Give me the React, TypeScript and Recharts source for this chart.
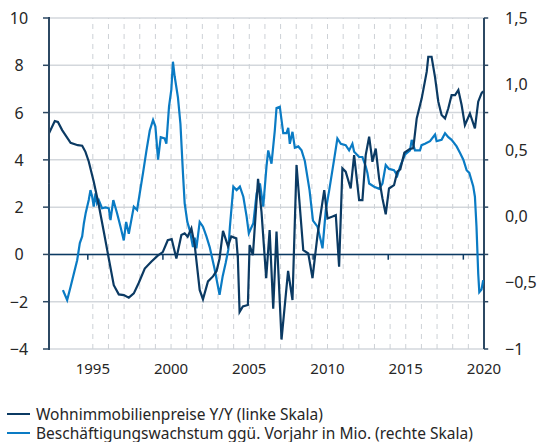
import React from "react";
import {
  LineChart,
  Line,
  XAxis,
  YAxis,
  ReferenceLine,
} from "recharts";

// Wohnimmobilienpreise Y/Y (linke Skala)
const priceDates = [
  1992.2, 1992.57, 1992.77, 1993.04, 1993.58, 1994.04, 1994.32, 1994.53, 1994.74, 1995.06,
  1995.38, 1995.7, 1996.02, 1996.34, 1996.66, 1996.98, 1997.3, 1997.62, 1997.94, 1998.32,
  1998.75, 1999.15, 1999.47, 1999.79, 2000.04, 2000.34, 2000.66, 2000.87, 2001.06, 2001.3,
  2001.51, 2001.83, 2002.04, 2002.36, 2002.68, 2002.91, 2003.1, 2003.32, 2003.64, 2003.85,
  2004.17, 2004.27, 2004.38, 2004.59, 2004.91, 2005.02, 2005.23, 2005.56, 2005.78, 2006.08,
  2006.3, 2006.53, 2006.74, 2007.06, 2007.48, 2007.76, 2008.02, 2008.45, 2008.77, 2009.04,
  2009.36, 2009.79, 2010.0, 2010.32, 2010.53, 2010.74, 2010.95, 2011.16, 2011.48, 2011.7,
  2012.02, 2012.23, 2012.44, 2012.66, 2012.87, 2013.08, 2013.3, 2013.51, 2013.72, 2013.93,
  2014.25, 2014.46, 2014.65, 2014.91, 2015.23, 2015.48, 2015.7, 2016.02, 2016.34, 2016.44,
  2016.65, 2016.87, 2017.08, 2017.29, 2017.51, 2017.72, 2017.93, 2018.15, 2018.36, 2018.57,
  2018.78, 2019.1, 2019.42, 2019.63, 2019.84, 2019.95,
];
const priceValues = [
  5.12, 5.64, 5.6, 5.26, 4.72, 4.62, 4.6, 4.34, 3.93, 3.07,
  2.09, 0.97, -0.17, -1.3, -1.69, -1.72, -1.83, -1.65, -1.2, -0.6,
  -0.3, -0.05, 0.1, 0.6, 0.65, -0.17, 0.82, 0.89, 0.75, 1.1,
  0.4, -1.5, -1.9, -1.14, -0.93, -0.7, -0.17, 1.0, 0.35, 0.76,
  0.68, -0.17, -2.43, -2.2, -2.14, 0.39, -0.03, 3.2, 1.8, -1.0,
  1.03, -2.3, 0.97, -3.6, -0.7, -1.93, 3.78, 0.18, 0.04, -1.0,
  0.82, 2.72, 1.52, 1.6, 1.66, -0.52, 3.64, 3.5, 2.79, 4.2,
  2.3, 2.3, 4.2, 4.98, 3.92, 4.48, 3.2, 2.37, 1.7, 2.79,
  2.93, 3.5, 3.6, 4.3, 4.45, 4.5, 5.75, 6.6, 7.73, 8.36,
  8.36, 7.5, 6.46, 5.9, 5.75, 6.18, 6.74, 6.74, 6.95, 6.32,
  5.47, 5.96, 5.33, 6.46, 6.81, 6.9,
];

// Beschäftigungswachstum ggü. Vorjahr in Mio. (rechte Skala)
const jobDates = [
  1993.09, 1993.36, 1993.58, 1993.79, 1994.0, 1994.17, 1994.32, 1994.43, 1994.55, 1994.74,
  1994.85, 1994.96, 1995.06, 1995.17, 1995.27, 1995.38, 1995.59, 1995.81, 1996.02, 1996.13,
  1996.31, 1996.55, 1996.77, 1996.98, 1997.13, 1997.3, 1997.62, 1997.83, 1998.0, 1998.21,
  1998.43, 1998.64, 1998.85, 1999.0, 1999.17, 1999.34, 1999.59, 1999.7, 1999.87, 2000.02,
  2000.12, 2000.23, 2000.44, 2000.6, 2000.76, 2000.87, 2001.04, 2001.19, 2001.4, 2001.51,
  2001.62, 2001.83, 2002.04, 2002.26, 2002.47, 2002.79, 2003.1, 2003.3, 2003.49, 2003.66,
  2003.76, 2003.98, 2004.19, 2004.4, 2004.62, 2004.83, 2004.97, 2005.26, 2005.47, 2005.68,
  2005.89, 2006.1, 2006.21, 2006.42, 2006.63, 2006.74, 2006.95, 2007.17, 2007.38, 2007.49,
  2007.59, 2007.76, 2007.91, 2008.13, 2008.34, 2008.55, 2008.85, 2009.07, 2009.36, 2009.57,
  2009.68, 2009.89, 2010.11, 2010.42, 2010.63, 2010.85, 2011.16, 2011.38, 2011.59, 2011.7,
  2012.02, 2012.23, 2012.44, 2012.55, 2012.66, 2012.98, 2013.3, 2013.51, 2013.72, 2013.93,
  2014.25, 2014.46, 2014.64, 2014.96, 2015.27, 2015.38, 2015.59, 2015.91, 2016.01, 2016.23,
  2016.55, 2016.87, 2016.97, 2017.29, 2017.51, 2017.72, 2017.93, 2018.25, 2018.47, 2018.68,
  2018.89, 2019.06, 2019.31, 2019.42, 2019.52, 2019.63, 2019.7, 2019.84, 2019.95,
];
const jobValues = [
  -0.555, -0.63, -0.53, -0.43, -0.33, -0.2, -0.15, -0.05, 0.03, 0.125,
  0.2, 0.15, 0.075, 0.176, 0.1, 0.125, 0.063, 0.07, 0.063, -0.026,
  0.125, 0.025, -0.076, -0.18, -0.04, -0.13, 0.075, 0.05, 0.176, 0.33,
  0.5, 0.65, 0.73, 0.68, 0.43, 0.6, 0.59, 0.55, 0.83, 0.96,
  1.17, 1.06, 0.9, 0.7, 0.33, 0.1, -0.04, -0.1, -0.23, -0.16,
  -0.24, -0.04, -0.076, -0.15, -0.23, -0.4, -0.59, -0.45, -0.35, -0.25,
  -0.08, 0.226, 0.2, 0.226, 0.15, 0.0, -0.126, -0.05, 0.176, 0.25,
  0.075, 0.38, 0.5, 0.4, 0.65, 0.82, 0.83, 0.63, 0.63, 0.67,
  0.55, 0.64, 0.52, 0.53, 0.5, 0.42, 0.2, -0.03, -0.076, -0.18,
  -0.24, 0.05, 0.2, 0.43, 0.59, 0.55, 0.54, 0.5, 0.55, 0.49,
  0.45, 0.45, 0.38, 0.33, 0.25, 0.226, 0.21, 0.25, 0.39, 0.36,
  0.35, 0.31, 0.38, 0.47, 0.5, 0.58, 0.5, 0.5, 0.54, 0.55,
  0.57, 0.62, 0.57, 0.58, 0.63, 0.6, 0.58, 0.53, 0.48, 0.43,
  0.35, 0.33, 0.23, 0.15, -0.076, -0.43, -0.57, -0.55, -0.48,
];

const leftTicks = [-4, -2, 0, 2, 4, 6, 8, 10];
const rightTicks = [-1, -0.5, 0, 0.5, 1, 1.5];
const rightTickLabels = ["\u22121", "\u22120,5", "0,0", "0,5", "1,0", "1,5"];
const yearTicks = [1995, 2000, 2005, 2010, 2015, 2020];
const gridYears = [
  1995, 1996, 1997, 1998, 1999, 2000, 2001, 2002, 2003, 2004, 2005, 2006, 2007,
  2008, 2009, 2010, 2011, 2012, 2013, 2014, 2015, 2016, 2017, 2018, 2019,
];
const zeroLineTicks = [1994.68, 1999.48, 2004.28, 2009.08, 2013.88, 2018.68];
const xDomain = [1992.2, 2020];

const priceData = priceDates.map((d, i) => ({ year: d, value: priceValues[i] }));
const jobData = jobDates.map((d, i) => ({ year: d, value: jobValues[i] }));

const DARK = "#0b3a63";
const BLUE = "#0a7bc4";
const AXIS = "#2c4863";
const GRID = "#d3d7dc";
const TEXT = "#262626";
const FONT = "'Noto Sans', sans-serif";

const fmtLeft = (v: number) => (v < 0 ? "\u2212" + Math.abs(v) : String(v));
const fmtRight = (v: number) => rightTickLabels[rightTicks.indexOf(v)] ?? String(v);

// left labels centred in the gutter, short tick mark at the axis, and the
// axis line itself drawn as short pieces around each tick (half a step each way)
const LeftTick = (props: any) => {
  const { x, y, payload } = props;
  const isTop = payload.value === leftTicks[leftTicks.length - 1];
  const isBottom = payload.value === leftTicks[0];
  const half = 24;
  return (
    <g>
      <line
        x1={x + 30}
        x2={x + 30}
        y1={isTop ? y - 1 : y - half}
        y2={isBottom ? y + 1 : y + half}
        stroke={AXIS}
        strokeWidth={2}
      />
      <line x1={x + 24} x2={x + 31} y1={y} y2={y} stroke={AXIS} strokeWidth={1.5} />
      <text
        x={x}
        y={y}
        dy={6}
        textAnchor="middle"
        fill={TEXT}
        fontSize={16}
        fontFamily={FONT}
      >
        {fmtLeft(payload.value)}
      </text>
    </g>
  );
};

export default function App() {
  return (
    <div
      style={{
        position: "absolute",
        left: 0,
        top: 0,
        width: 540,
        height: 442,
        background: "#fff",
        fontFamily: FONT,
      }}
    >
      <LineChart
        width={540}
        height={390}
        margin={{ top: 18, right: 0, left: 0, bottom: 11 }}
      >
        <XAxis
          xAxisId="main"
          dataKey="year"
          type="number"
          domain={xDomain}
          allowDataOverflow
          ticks={yearTicks}
          axisLine={false}
          tickLine={false}
          tickSize={0}
          tickMargin={14}
          height={30}
          tick={{ fill: TEXT, fontSize: 15, fontFamily: FONT }}
        />
        <YAxis
          yAxisId="left"
          domain={[-4, 10]}
          ticks={leftTicks}
          width={49}
          axisLine={false}
          tickLine={false}
          tickSize={6}
          tickMargin={24}
          tick={<LeftTick />}
        />
        <YAxis
          yAxisId="right"
          orientation="right"
          domain={[-1, 1.5]}
          ticks={rightTicks}
          width={56}
          axisLine={false}
          tickLine={false}
          tickSize={0}
          tickMargin={21}
          tickFormatter={fmtRight}
          tick={{ fill: TEXT, fontSize: 16, fontFamily: FONT, textAnchor: "start" }}
        />
        {leftTicks.map((t) => (
          <ReferenceLine
            key={"h" + t}
            yAxisId="left"
            xAxisId="main"
            y={t}
            stroke={GRID}
            strokeWidth={1.5}
          />
        ))}
        {gridYears.map((yr) => (
          <ReferenceLine
            key={"v" + yr}
            yAxisId="left"
            xAxisId="main"
            x={yr}
            stroke="#cdd1d6"
            strokeDasharray="5 5"
          />
        ))}
        <ReferenceLine
          yAxisId="left"
          xAxisId="main"
          x={xDomain[1]}
          ifOverflow="visible"
          stroke={AXIS}
          strokeWidth={2}
        />
        {leftTicks.map((t) => (
          <ReferenceLine
            key={"r" + t}
            yAxisId="left"
            xAxisId="main"
            ifOverflow="visible"
            segment={[
              { x: xDomain[1], y: t },
              { x: xDomain[1] + 0.27, y: t },
            ]}
            stroke={AXIS}
            strokeWidth={1.5}
          />
        ))}
        <ReferenceLine yAxisId="left" xAxisId="main" y={0} stroke={DARK} strokeWidth={1.5} />
        {zeroLineTicks.map((t) => (
          <ReferenceLine
            key={"z" + t}
            yAxisId="left"
            xAxisId="main"
            segment={[
              { x: t, y: 0 },
              { x: t, y: -0.22 },
            ]}
            stroke={DARK}
            strokeWidth={1.5}
          />
        ))}
        <Line
          data={jobData}
          xAxisId="main"
          yAxisId="right"
          dataKey="value"
          type="linear"
          stroke={BLUE}
          strokeWidth={2.2}
          dot={false}
          isAnimationActive={false}
        />
        <Line
          data={priceData}
          xAxisId="main"
          yAxisId="left"
          dataKey="value"
          type="linear"
          stroke={DARK}
          strokeWidth={2.2}
          dot={false}
          isAnimationActive={false}
        />
      </LineChart>
      {[
        { color: DARK, label: "Wohnimmobilienpreise Y/Y (linke Skala)", top: 405 },
        {
          color: BLUE,
          label: "Beschäftigungswachstum ggü. Vorjahr in Mio. (rechte Skala)",
          top: 424,
        },
      ].map((item) => (
        <div
          key={item.label}
          style={{
            position: "absolute",
            left: 7,
            top: item.top,
            height: 18,
            lineHeight: "18px",
            display: "flex",
            alignItems: "center",
            fontSize: 15.5,
            color: TEXT,
            whiteSpace: "nowrap",
          }}
        >
          <span
            style={{
              display: "inline-block",
              width: 23,
              height: 2.5,
              background: item.color,
              marginRight: 6,
            }}
          />
          <span>{item.label}</span>
        </div>
      ))}
    </div>
  );
}
